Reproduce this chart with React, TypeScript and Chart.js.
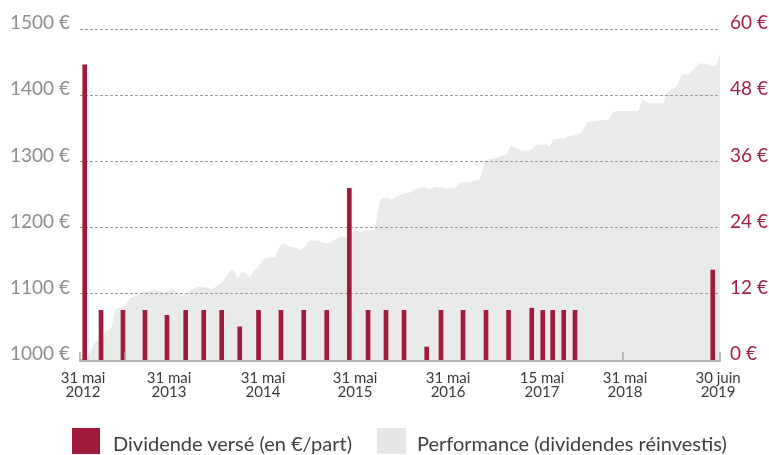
import React, { useEffect, useRef } from "react";
import { Chart, registerables } from "chart.js";

Chart.register(...registerables);

const FONT = "Lato, 'Open Sans', sans-serif";
const RED = "#a01a3b";
const RED_TEXT = "#a31f40";
const AREA = "#e9eaea";
const LEGEND_GRAY = "#e6e6e6";

// x unit: months along the chart's time axis
const tickPositions = [0.4, 11.89, 24.45, 36.74, 49.17, 61.72, 72.81, 85.24];
const tickLabels = [
  ["31 mai", "2012"],
  ["31 mai", "2013"],
  ["31 mai", "2014"],
  ["31 mai", "2015"],
  ["31 mai", "2016"],
  ["15 mai", "2017"],
  ["31 mai", "2018"],
  ["30 juin", "2019"],
];
const tickMarkPositions = [0, 6.01, 72.5, 85.5];

const dividendDates = [
  0.63, 2.81, 5.74, 8.68, 11.62, 14.12, 16.53, 18.93, 21.34, 23.85, 26.85, 29.89,
  32.96, 35.98, 38.48, 40.88, 43.29, 46.32, 48.23, 51.17, 54.24, 57.25, 60.35,
  61.82, 63.15, 64.62, 66.13, 84.53,
];
const dividendValues = [
  53.5, 9, 9, 9, 8.1, 9, 9, 9, 6.0, 9, 9, 9, 9, 31.1, 9, 9, 9, 2.35, 9, 9, 9, 9,
  9.4, 9, 9, 9, 9, 16.3,
];

const perfDates = [
  0.8, 2.0, 2.44, 3.34, 4.24, 4.68, 5.12, 5.88, 6.68, 7.58, 8.24, 9.08, 10.02,
  10.69, 11.36, 12.25, 12.69, 13.59, 14.16, 14.92, 15.8, 17.14, 17.64, 18.93,
  20.04, 20.48, 21.07, 21.6, 22.04, 22.71, 23.38, 23.78, 24.45, 25.12, 26.05,
  26.72, 27.12, 28.06, 28.72, 29.62, 30.73, 31.84, 32.29, 33.17, 34.07, 34.74,
  35.4, 35.85, 36.74, 37.41, 38.08, 38.52, 39.41, 40.08, 40.52, 40.98, 41.64,
  42.31, 43.19, 44.09, 44.53, 45.2, 46.09, 46.76, 47.43, 48.99, 50.1, 50.77,
  51.66, 52.55, 53.44, 54.11, 54.78, 55.67, 56.34, 57.01, 57.54, 58.34, 59.01,
  59.89, 60.56, 61.01, 62.35, 62.7, 63.23, 64.13, 64.57, 65.24, 66.36, 67.03,
  67.78, 68.8, 70.58, 71.25, 72.14, 74.59, 75.18, 75.93, 77.05, 77.93, 78.38,
  79.27, 79.72, 80.39, 81.27, 81.72, 82.74, 83.5, 84.39, 84.97, 85.5,
];
const perfValues = [
  1000, 1027, 1029, 1042, 1050, 1077, 1079, 1080, 1094, 1097, 1102, 1104, 1107,
  1104, 1102, 1107, 1105, 1097, 1100, 1107, 1111, 1109, 1107, 1117, 1134, 1137,
  1123, 1132, 1132, 1125, 1137, 1140, 1152, 1155, 1155, 1172, 1176, 1171, 1170,
  1166, 1180, 1181, 1177, 1176, 1182, 1187, 1185, 1188, 1196, 1193, 1197, 1196,
  1197, 1242, 1245, 1246, 1242, 1247, 1251, 1253, 1257, 1260, 1261, 1257, 1262,
  1259, 1260, 1268, 1269, 1270, 1273, 1301, 1304, 1305, 1309, 1310, 1324, 1319,
  1317, 1316, 1320, 1325, 1325, 1322, 1333, 1335, 1334, 1338, 1340, 1344, 1359,
  1361, 1363, 1375, 1376, 1376, 1394, 1388, 1388, 1388, 1404, 1411, 1413, 1431,
  1432, 1436, 1448, 1448, 1444, 1445, 1463,
];

const legendLabels = ["Dividende versé (en €/part)", "Performance (dividendes réinvestis)"];

const gridOverArea = {
  id: "gridOverArea",
  afterDatasetDraw(chart: any, args: any) {
    if (args.index === 1) {
      const y = chart.scales.y;
      y.drawGrid(chart.chartArea);
    }
  },
};

const tickMarks = {
  id: "tickMarks",
  afterDatasetsDraw(chart: any) {
    const ctx = chart.ctx;
    const x = chart.scales.x;
    const bottom = chart.chartArea.bottom;
    ctx.save();
    ctx.strokeStyle = "#a8a8a8";
    ctx.lineWidth = 1.5;
    tickMarkPositions.forEach((v) => {
      const px = Math.round(x.getPixelForValue(v));
      ctx.beginPath();
      ctx.moveTo(px, bottom);
      ctx.lineTo(px, bottom - 8);
      ctx.stroke();
    });
    ctx.restore();
  },
};

export default function App() {
  const ref = useRef<HTMLCanvasElement | null>(null);

  useEffect(() => {
    if (!ref.current) return;
    const chart = new Chart(ref.current, {
      type: "bar",
      data: {
        datasets: [
          {
            type: "bar",
            label: legendLabels[0],
            data: dividendDates.map((x, i) => ({ x, y: dividendValues[i] })),
            backgroundColor: RED,
            barThickness: 4,
            yAxisID: "y2",
            xAxisID: "x",
            order: 0,
          } as any,
          {
            type: "line",
            label: legendLabels[1],
            data: perfDates.map((x, i) => ({ x, y: perfValues[i] })),
            yAxisID: "y",
            xAxisID: "x",
            borderWidth: 0,
            borderColor: "rgba(0,0,0,0)",
            backgroundColor: AREA,
            fill: "start",
            pointRadius: 0,
            tension: 0,
            order: 1,
          } as any,
        ],
      },
      options: {
        animation: false,
        responsive: false,
        maintainAspectRatio: false,
        layout: { padding: { top: 29, left: 0, right: 0, bottom: 0 } },
        plugins: { legend: { display: false }, tooltip: { enabled: false } },
        scales: {
          x: {
            type: "linear",
            min: 0,
            max: 85.5,
            offset: false,
            position: "bottom",
            grid: { display: false, drawTicks: false },
            border: { display: true, color: "#b4b4b4", width: 3 },
            afterBuildTicks: (s: any) => {
              s.ticks = tickPositions.map((v) => ({ value: v }));
            },
            afterFit: (s: any) => {
              s.height = 95;
            },
            ticks: {
              autoSkip: false,
              maxRotation: 0,
              minRotation: 0,
              padding: 11,
              color: "#3a3a3a",
              font: { family: FONT, size: 15, lineHeight: 0.94 },
              callback: (_v: any, i: number) => tickLabels[i],
            },
          },
          y: {
            position: "left",
            min: 1000,
            max: 1500,
            ticks: {
              stepSize: 100,
              color: "#8c8c8c",
              font: { family: FONT, size: 19 },
              padding: 10,
              labelOffset: -6,
              callback: (v: any) => v + " €",
            },
            grid: {
              color: (c: any) => (c.tick && c.tick.value === 1000 ? "rgba(0,0,0,0)" : "#9b9b9b"),
              lineWidth: 1,
              drawTicks: false,
            },
            border: { display: false, dash: [3, 2] },
            afterFit: (s: any) => {
              s.width = 80;
            },
          },
          y2: {
            position: "right",
            min: 0,
            max: 60,
            ticks: {
              stepSize: 12,
              color: RED_TEXT,
              font: { family: FONT, size: 19 },
              padding: 10,
              labelOffset: -6,
              callback: (v: any) => v + " €",
            },
            grid: { display: false, drawTicks: false },
            border: { display: false },
            afterFit: (s: any) => {
              s.width = 49;
            },
          },
        },
      } as any,
      plugins: [gridOverArea, tickMarks],
    });
    return () => chart.destroy();
  }, []);

  const legendText: React.CSSProperties = {
    fontFamily: FONT,
    fontSize: 20,
    color: "#404040",
    whiteSpace: "nowrap",
    lineHeight: "26px",
    position: "relative",
    top: 2,
  };

  return (
    <div
      style={{
        position: "absolute",
        left: 0,
        top: 0,
        width: 769,
        height: 455,
        background: "#fff",
        overflow: "hidden",
      }}
    >
      <canvas ref={ref} width={769} height={455} style={{ display: "block", width: 769, height: 455 }} />
      <div style={{ position: "absolute", left: 72, top: 428, display: "flex", alignItems: "center" }}>
        <span style={{ display: "inline-block", width: 28, height: 26, background: RED, marginRight: 13 }} />
        <span style={legendText}>{legendLabels[0]}</span>
      </div>
      <div style={{ position: "absolute", left: 377, top: 428, display: "flex", alignItems: "center" }}>
        <span style={{ display: "inline-block", width: 29, height: 26, background: LEGEND_GRAY, marginRight: 11 }} />
        <span style={legendText}>{legendLabels[1]}</span>
      </div>
    </div>
  );
}
